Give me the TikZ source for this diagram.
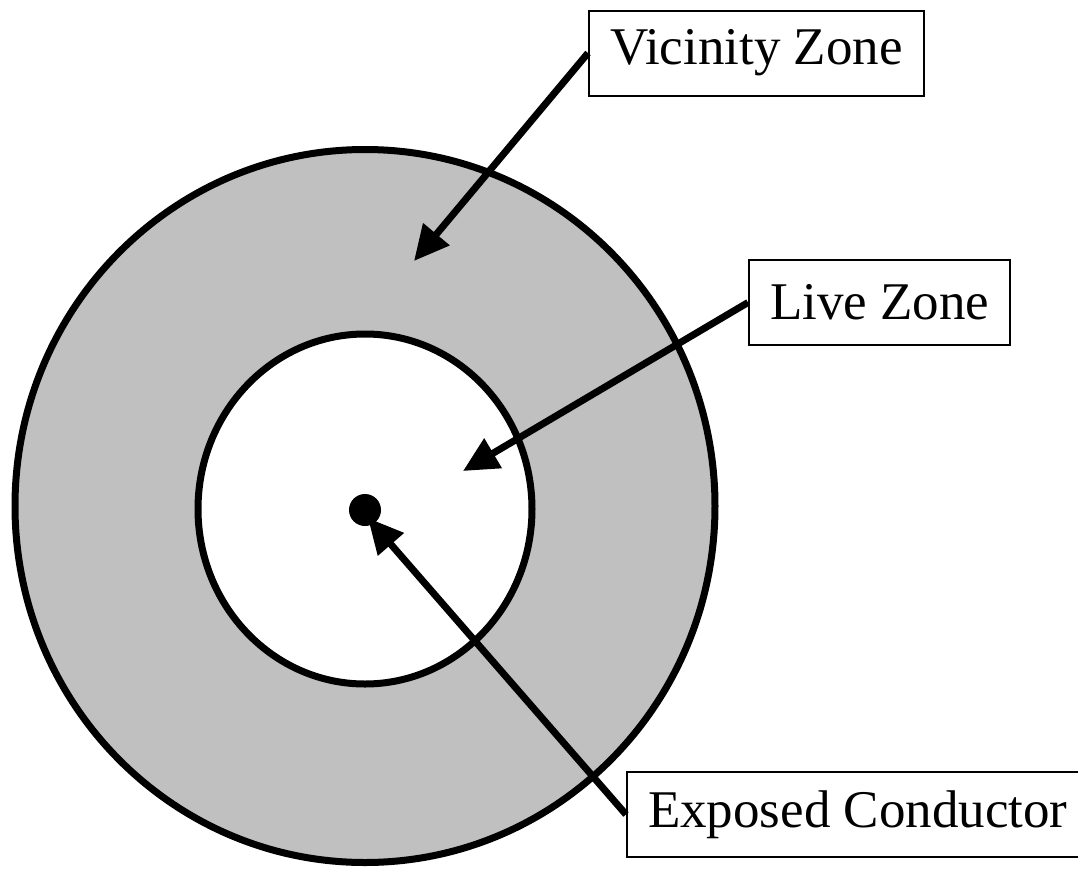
\documentclass[tikz,border=0pt]{standalone}
\usepackage{fontspec}
\setmainfont{Liberation Serif}
\usetikzlibrary{arrows.meta}
\definecolor{zonegray}{HTML}{C0C0C0}

\begin{document}
\begin{tikzpicture}[x=0.5pt, y=-0.5pt,
  tag/.style={rectangle, draw, line width=1pt, inner xsep=10.5pt,
    minimum height=42.5pt, font=\fontsize{26.5}{30}\selectfont, anchor=west},
  ring/.style={line width=3.5pt},
  pointer/.style={line width=3.5pt, -{Triangle[length=17.5pt, width=16.5pt]}},
]
  \useasboundingbox (0,0) rectangle (1078,869);
  % zones around the conductor
  \filldraw[ring, fill=zonegray] (365,506) ellipse [x radius=175pt, y radius=178.25pt];
  \filldraw[ring, fill=white] (365,509) ellipse [x radius=83.5pt, y radius=87.5pt];
  \node[circle, fill, inner sep=0pt, minimum size=16pt] (conductor) at (365,510) {};
  % labels
  \node[tag] (vicinity) at (588,53) {Vicinity Zone};
  \node[tag] (live) at (748,302.5) {Live Zone};
  \node[tag] (exposed) at (626,814.5) {Exposed Conductor};
  \coordinate (vicinitytip) at (414,261);
  \coordinate (livetip) at (463,471);
  \coordinate (exposedtip) at (368,518);
  \draw[pointer] (vicinity.west) -- (vicinitytip);
  \draw[pointer] (live.west) -- (livetip);
  \draw[pointer] (exposed.west) -- (exposedtip);
\end{tikzpicture}
\end{document}
